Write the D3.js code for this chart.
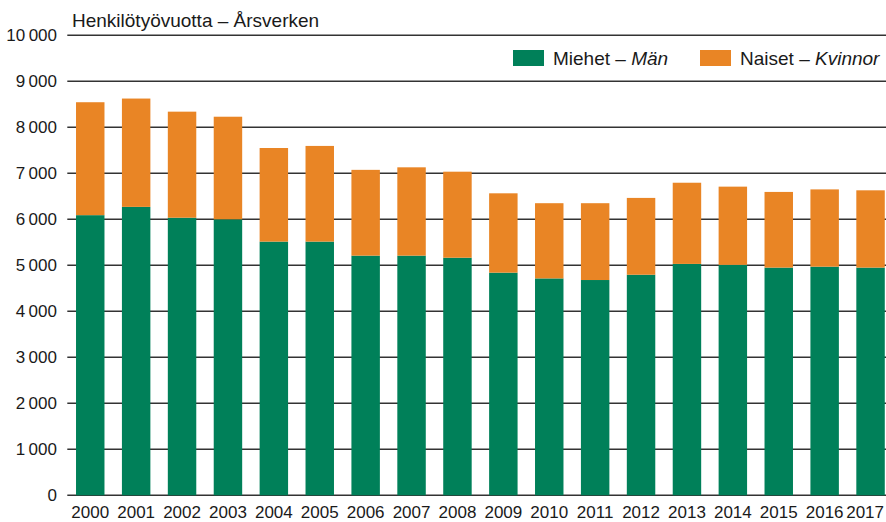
<!DOCTYPE html>
<html>
<head>
<meta charset="utf-8">
<script src="https://cdn.jsdelivr.net/npm/d3@7"></script>
<style>
  body { margin: 0; background: #fff; }
  svg { font-family: "Liberation Sans", Arial, sans-serif; }
</style>
</head>
<body>
<script>
var years = ["2000","2001","2002","2003","2004","2005","2006","2007","2008",
             "2009","2010","2011","2012","2013","2014","2015","2016","2017"];
var men   = [6090, 6270, 6035, 6000, 5515, 5515, 5210, 5210, 5165,
             4840, 4715, 4680, 4795, 5030, 5010, 4950, 4970, 4950];
var total = [8545, 8625, 8340, 8230, 7550, 7595, 7075, 7130, 7035,
             6565, 6350, 6350, 6465, 6795, 6710, 6595, 6650, 6630];
var women = total.map(function(t, i){ return t - men[i]; });
var yTicks = [0, 1000, 2000, 3000, 4000, 5000, 6000, 7000, 8000, 9000, 10000];

var width = 886, height = 522;
var green = "#008059", orange = "#e98525";

var svg = d3.select("body").append("svg")
    .attr("width", width).attr("height", height);

var x = d3.scaleBand().domain(years).range([67.3, 893.5]).paddingInner(0.38).paddingOuter(0.19);
var y = d3.scaleLinear().domain([0, 10000]).range([495.3, 35.3]);

var fmt = function(d){ return d3.format(",")(d).replace(/,/g, "\u202f"); };

// gridlines
svg.append("g").selectAll("line").data(yTicks)
    .enter().append("line")
    .attr("x1", 67.3).attr("x2", width)
    .attr("y1", function(d){ return y(d); })
    .attr("y2", function(d){ return y(d); })
    .attr("stroke", "#333")
    .attr("stroke-width", 1.4);

// bars
var series = [
  { name: "men", vals: men, base: years.map(function(){ return 0; }), color: green },
  { name: "women", vals: women, base: men, color: orange }
];
series.forEach(function(s){
  svg.append("g").selectAll("rect").data(years)
    .enter().append("rect")
    .attr("x", function(d){ return x(d); })
    .attr("width", x.bandwidth())
    .attr("y", function(d, i){ return y(s.base[i] + s.vals[i]); })
    .attr("height", function(d, i){ return y(s.base[i]) - y(s.base[i] + s.vals[i]); })
    .attr("fill", s.color);
});

// y axis labels
svg.append("g").selectAll("text").data(yTicks)
    .enter().append("text")
    .attr("x", 57)
    .attr("y", function(d){ return y(d); })
    .attr("dy", "0.35em")
    .attr("text-anchor", "end")
    .attr("font-size", "17px")
    .attr("fill", "#1a1a1a")
    .text(fmt);

// x axis labels (last one pulled in so it stays inside the edge)
svg.append("g").selectAll("text").data(years)
    .enter().append("text")
    .attr("y", 518)
    .attr("text-anchor", "middle")
    .attr("font-size", "17px")
    .attr("fill", "#1a1a1a")
    .text(function(d){ return d; })
    .attr("x", function(d){
      var cx = x(d) + x.bandwidth()/2;
      var w = this.getComputedTextLength();
      return Math.min(cx, 884 - w/2);
    });

// title
svg.append("text")
    .attr("x", 72).attr("y", 27)
    .attr("font-size", "19px")
    .attr("fill", "#1a1a1a")
    .text("Henkilötyövuotta – Årsverken");

// legend
var legend = [
  { a: "Miehet – ", b: "Män", color: green, x: 513 },
  { a: "Naiset – ", b: "Kvinnor", color: orange, x: 700 }
];
var lg = svg.selectAll(".legend").data(legend)
    .enter().append("g").attr("class", "legend");
lg.append("rect")
    .attr("x", function(d){ return d.x; })
    .attr("y", 50)
    .attr("width", 31).attr("height", 16)
    .attr("fill", function(d){ return d.color; });
var lt = lg.append("text")
    .attr("x", function(d){ return d.x + 40; })
    .attr("y", 65)
    .attr("font-size", "19px")
    .attr("fill", "#1a1a1a");
lt.append("tspan").text(function(d){ return d.a; });
lt.append("tspan").attr("font-style", "italic").text(function(d){ return d.b; });
</script>
</body>
</html>
